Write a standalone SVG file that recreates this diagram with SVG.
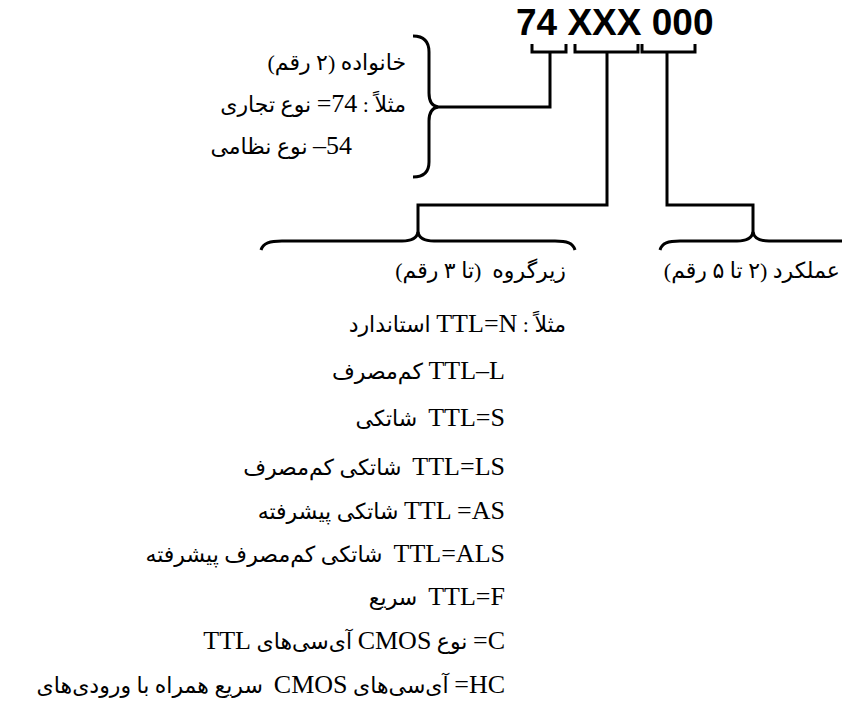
<svg xmlns="http://www.w3.org/2000/svg" width="842" height="719" viewBox="0 0 842 719">
  <style>
    .ln { fill: none; stroke: #000; stroke-width: 3; }
    .ttl { font-family: "Liberation Sans", Arial, sans-serif; font-weight: bold; font-size: 37px; fill: #000; }
    .fa { font-family: "Liberation Serif", "DejaVu Sans", serif; font-size: 22px; fill: #000; direction: rtl; unicode-bidi: embed; text-anchor: start; white-space: pre; }
    .l { font-size: 26px; }
  </style>
  <rect width="842" height="719" fill="#fff"/>

  <g id="title">
    <text class="ttl" x="516" y="35">74 XXX 000</text>
  </g>

  <g id="connectors">
    <!-- small brackets under the three digit groups -->
    <path class="ln" d="M532,44 V52 H566 V44"/>
    <path class="ln" d="M575,44 V52 H638 V44"/>
    <path class="ln" d="M642,44 V52 H695 V44"/>
    <!-- stems -->
    <path class="ln" d="M550,52 V107 H436"/>
    <path class="ln" d="M607,52 V205 H418 V233"/>
    <path class="ln" d="M667,52 V205 H753 V233"/>
    <!-- family brace -->
    <path class="ln" d="M413,36 C424,36 429,42 429,52 V93 C429,102 432,106 438,107 C432,108 429,112 429,121 V162 C429,172 424,177 413,177"/>
    <!-- subgroup brace -->
    <path class="ln" d="M261,250 C263,243 270,241 282,241 H402 C412,241 417,238 418,232 C419,238 424,241 434,241 H555 C567,241 573,243 575,250"/>
    <!-- function brace -->
    <path class="ln" d="M660,250 C662,243 668,241 680,241 H737 C747,241 752,238 753,232 C754,238 759,241 769,241 H845"/>
  </g>

  <g id="family">
    <text class="fa" x="406" y="70">خانواده (۲ رقم)</text>
    <text class="fa" x="406" y="112">مثلاً : <tspan class="l">74=</tspan> نوع تجاری</text>
    <text class="fa" x="352" y="154"><tspan class="l">54–</tspan> نوع نظامی</text>
  </g>

  <g id="subgroup">
    <text class="fa" x="566" y="278">زیرگروه  (تا ۳ رقم)</text>
    <text class="fa" x="566" y="332">مثلاً : <tspan class="l">TTL=N</tspan> استاندارد</text>
    <text class="fa" x="505" y="379"><tspan class="l">TTL–L</tspan> کم‌مصرف</text>
    <text class="fa" x="505" y="426"><tspan class="l">TTL=S</tspan>  شاتکی</text>
    <text class="fa" x="505" y="475"><tspan class="l">TTL=LS</tspan>  شاتکی کم‌مصرف</text>
    <text class="fa" x="505" y="519"><tspan class="l">TTL =AS</tspan> شاتکی پیشرفته</text>
    <text class="fa" x="505" y="562"><tspan class="l">TTL=ALS</tspan>  شاتکی کم‌مصرف پیشرفته</text>
    <text class="fa" x="505" y="605"><tspan class="l">TTL=F</tspan>  سریع</text>
    <text class="fa" x="505" y="649"><tspan class="l">C=</tspan> نوع <tspan class="l">CMOS</tspan> آی‌سی‌های <tspan class="l">TTL</tspan></text>
    <text class="fa" x="505" y="693"><tspan class="l">HC=</tspan> آی‌سی‌های <tspan class="l">CMOS</tspan>  سریع همراه با ورودی‌های</text>
  </g>

  <g id="function">
    <text class="fa" x="840" y="278">عملکرد (۲ تا ۵ رقم)</text>
  </g>
</svg>
